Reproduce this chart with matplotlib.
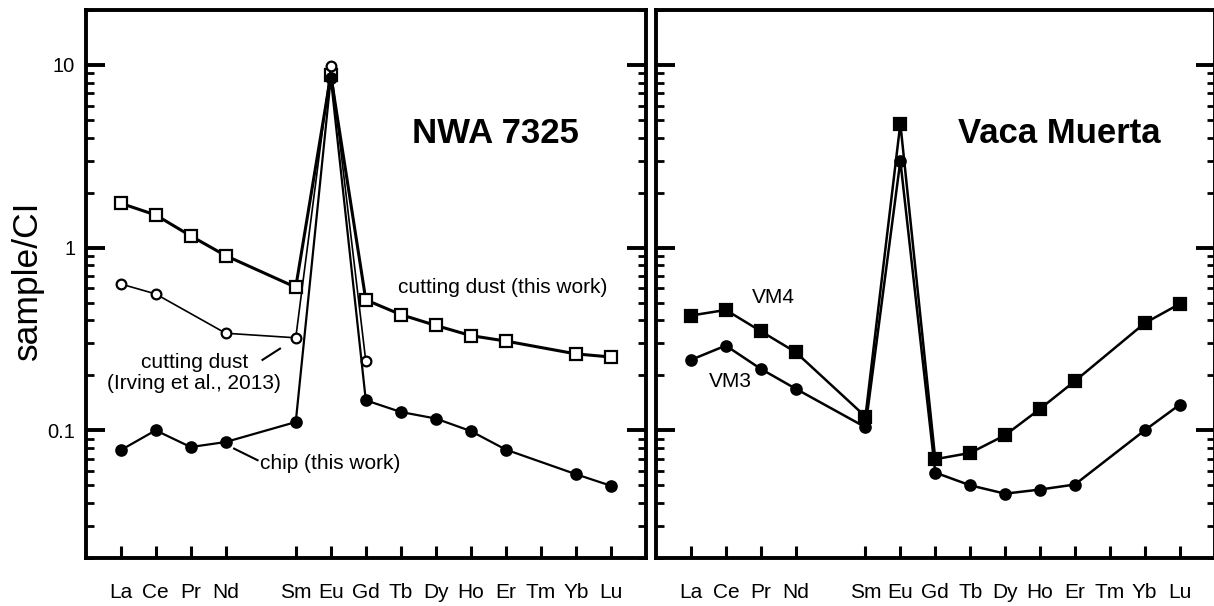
import numpy as np
from matplotlib import pyplot as plt

#REE order, Pm is skipped on the axis
elements=['La','Ce','Pr','Nd','Pm','Sm','Eu','Gd','Tb','Dy','Ho','Er','Tm','Yb','Lu']
labels=['La','Ce','Pr','Nd','Sm','Eu','Gd','Tb','Dy','Ho','Er','Tm','Yb','Lu']
nan=np.nan

#NWA 7325 (sample/CI)
dust_this=[1.75,1.51,1.16,0.904,nan,0.607,8.8,0.518,0.43,0.375,0.33,0.308,nan,0.262,0.252]
dust_irving=[0.633,0.558,nan,0.34,nan,0.321,9.9,0.239,nan,nan,nan,nan,nan,nan,nan]
chip_this=[0.0778,0.100,0.081,0.0863,nan,0.111,8.5,0.146,0.126,0.116,0.099,0.0784,nan,0.0575,0.0497]

#Vaca Muerta (sample/CI)
vm4=[0.425,0.456,0.349,0.268,nan,0.119,4.78,0.0695,0.0752,0.094,0.131,0.186,nan,0.386,0.492]
vm3=[0.243,0.291,0.217,0.169,nan,0.104,2.99,0.0587,0.050,0.045,0.0474,0.0505,nan,0.100,0.138]

plt.rc('font',family='Liberation Sans')
fig=plt.figure(figsize=(12.14,6.06),dpi=100)
ax1=fig.add_axes([85.6/1214,48/606,560.4/1214,548/606])
ax2=fig.add_axes([656/1214,48/606,558.5/1214,548/606])

def series(ax,vals,marker,face,lw,ms):
	v=np.array(vals,dtype=float)
	x=np.arange(len(v))
	m=~np.isnan(v)
	ax.plot(x[m],v[m],color='black',lw=lw,marker=marker,ms=ms,
		markerfacecolor=face,markeredgecolor='black',markeredgewidth=1.6)

xpos=[i for i,e in enumerate(elements) if e!='Pm']
for ax in (ax1,ax2):
	ax.set_yscale('log')
	ax.set_ylim(0.02,20)
	ax.set_xlim(-1,15)
	ax.set_xticks(xpos)
	ax.set_xticklabels(labels,fontsize=15)
	ax.xaxis.set_minor_locator(plt.NullLocator())
	for s in ax.spines.values():
		s.set_linewidth(2.8)
	ax.tick_params(axis='x',direction='in',length=8.5,width=2.2,pad=18)
	ax.tick_params(axis='y',which='major',direction='in',length=13.5,width=2.8,left=True,right=True,pad=7.5,labelsize=14.5)
	ax.tick_params(axis='y',which='minor',direction='in',length=6,width=2,left=True,right=True)

ax1.set_yticks([0.1,1,10])
ax1.set_yticklabels(['0.1','1','10'])
ax2.set_yticks([0.1,1,10])
ax2.set_yticklabels([])
fig.text(27.5/1214,1-280/606,'sample/CI',fontsize=25.5,rotation=90,ha='center',va='center')

#left panel
series(ax1,dust_this,'s','white',2.2,8)
series(ax1,dust_irving,'o','white',1.2,7)
series(ax1,chip_this,'o','black',1.6,7.5)
ax1.text(10.69,4.2,'NWA 7325',fontsize=25,fontweight='bold',ha='center',va='center')
ax1.text(7.92,0.604,'cutting dust (this work)',fontsize=15,ha='left',va='center')
ax1.text(2.1,0.206,'cutting dust\n(Irving et al., 2013)',fontsize=15,ha='center',va='center',linespacing=1.1)
ax1.text(3.98,0.066,'chip (this work)',fontsize=15,ha='left',va='center')
ax1.plot([4.05,4.55],[0.243,0.280],color='black',lw=1.5)
ax1.plot([3.24,3.91],[0.0794,0.0686],color='black',lw=1.5)

#right panel
series(ax2,vm4,'s','black',1.8,8)
series(ax2,vm3,'o','black',1.8,7.5)
ax2.text(10.54,4.2,'Vaca Muerta',fontsize=25,fontweight='bold',ha='center',va='center')
ax2.text(2.36,0.533,'VM4',fontsize=15,ha='center',va='center')
ax2.text(1.12,0.184,'VM3',fontsize=15,ha='center',va='center')

plt.savefig('out.png',dpi=100)
